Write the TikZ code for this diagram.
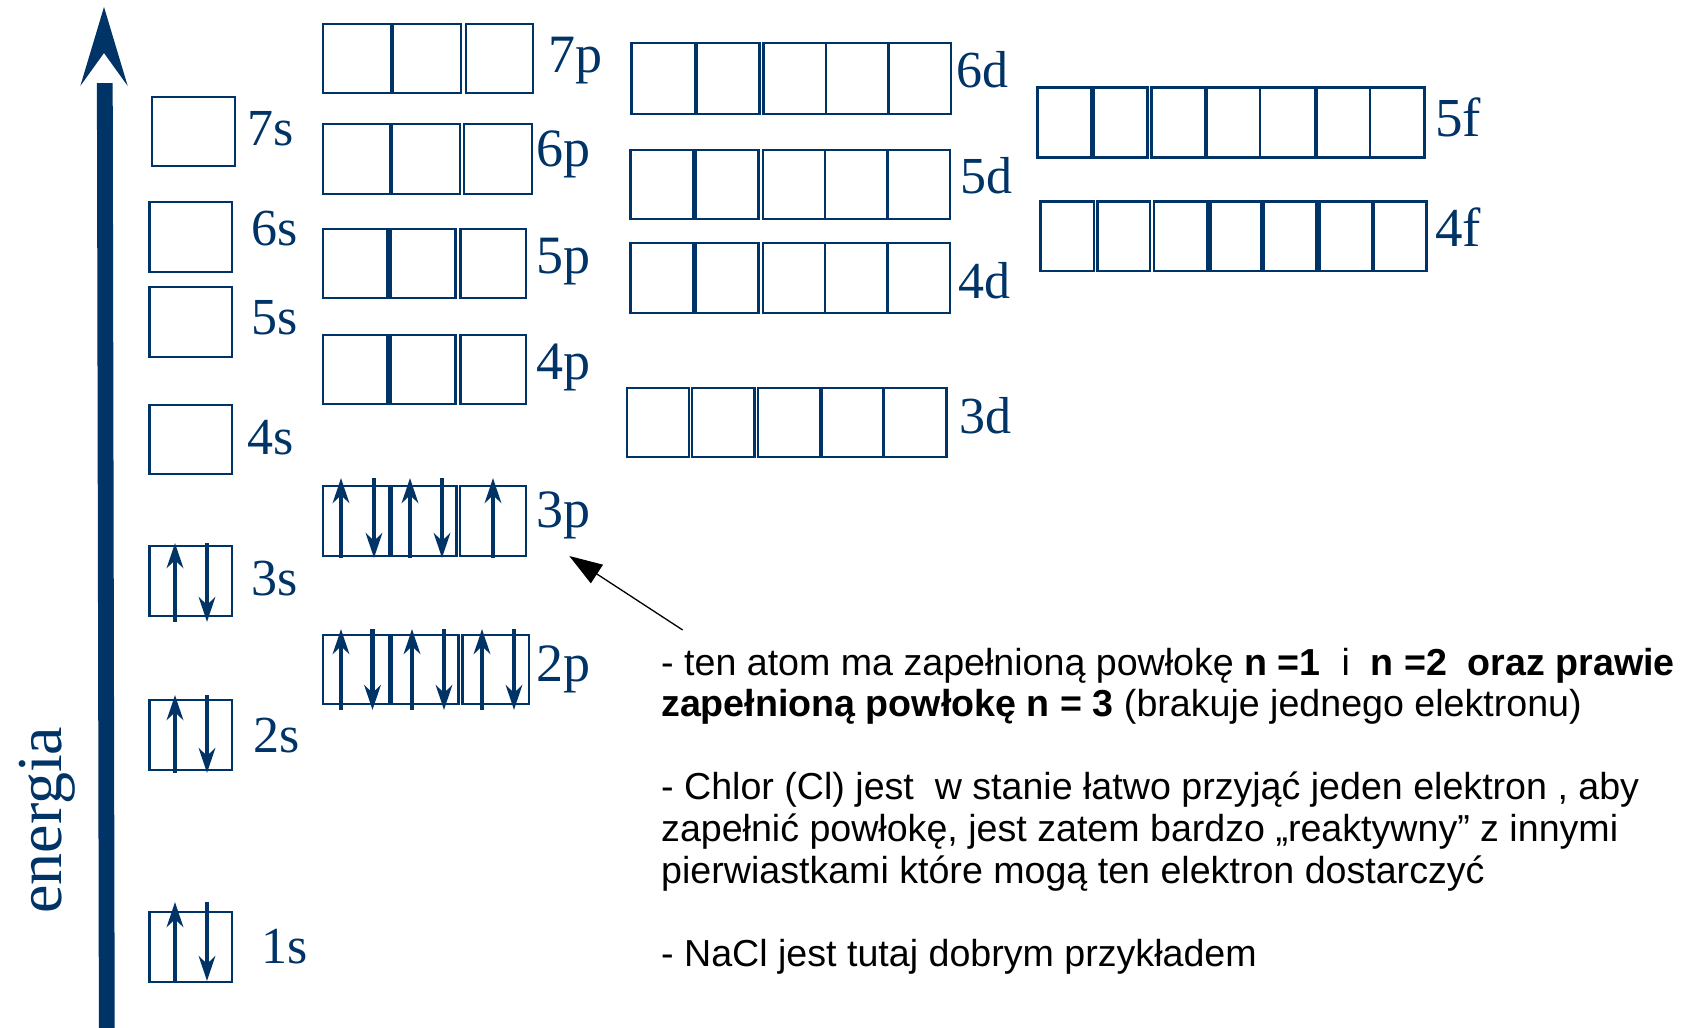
\documentclass[tikz,border=0pt]{standalone}
\usepackage{fontspec}
\setmainfont{Liberation Serif}
\newfontfamily\sansf{Liberation Sans}
\usetikzlibrary{arrows.meta}
\definecolor{navy}{RGB}{0,51,102}
\tikzset{
  orb/.style={draw=navy, line width=2.8pt},
  lbl/.style={anchor=base west, inner sep=0pt, text=navy, font=\fontsize{52}{52}\selectfont},
  lblp/.style={lbl, font=\fontsize{54}{54}\selectfont},
  lblf/.style={lbl, font=\fontsize{55}{55}\selectfont},
  electron/.style={draw=navy, line width=4.5pt, -{Stealth[length=25pt,width=16.5pt,inset=8pt,fill=navy]}},
  txt/.style={anchor=base west, inner sep=0pt, font=\sansf\fontsize{37.6}{41.6}\selectfont},
  pointer/.style={draw=black, line width=1.3pt, -{Triangle[length=33pt,width=22pt]}}
}
\begin{document}
\begin{tikzpicture}[x=1pt,y=-1pt]
\useasboundingbox (0,0) rectangle (1682,1028);
% energy axis
\fill[navy] (104,7) -- (127.7,86) -- (104,53) -- (80.3,86) -- cycle;
\fill[navy] (96.9,83) -- (112.7,83) -- (114.7,1028) -- (98.9,1028) -- cycle;
\node[rotate=90, anchor=base west, inner sep=0pt, text=navy, font=\fontsize{64}{64}\selectfont] (energia) at (61,914) {energia};
% s orbitals
\foreach \xa/\ya/\xb/\yb in {152/97/235/166, 149.5/202/232/272, 149.5/287/232/357, 149.5/405/232/474, 149.5/546/232/616, 149.5/700/232/770, 149.5/912/232/982}
  \draw[orb] (\xa,\ya) rectangle (\xb,\yb);
% p orbitals
\foreach \ya/\yb in {24/93}
  \foreach \xa/\xb in {323/391, 393/461, 466/533} \draw[orb] (\xa,\ya) rectangle (\xb,\yb);
\foreach \ya/\yb in {124/194}
  \foreach \xa/\xb in {323/390, 392/460, 464/532} \draw[orb] (\xa,\ya) rectangle (\xb,\yb);
\foreach \ya/\yb in {229/298, 335/404}
  \foreach \xa/\xb in {323/387.5, 390.7/455.5, 460.7/526} \draw[orb] (\xa,\ya) rectangle (\xb,\yb);
\foreach \ya/\yb in {486/556}
  \foreach \xa/\xb in {323/389, 391.5/456.7, 460/526} \draw[orb] (\xa,\ya) rectangle (\xb,\yb);
\foreach \ya/\yb in {635/704}
  \foreach \xa/\xb in {323/389, 391.5/458.7, 462.6/529} \draw[orb] (\xa,\ya) rectangle (\xb,\yb);
% d orbitals
\foreach \xa/\xb in {631.4/695, 696.8/759.3, 763.6/826, 826/888.6, 888.6/951} \draw[orb] (\xa,43) rectangle (\xb,114);
\foreach \ya/\yb in {150/219, 243/313}
  \foreach \xa/\xb in {630.7/692.9, 695.7/758.2, 762.9/825, 825/887.5, 887.5/950} \draw[orb] (\xa,\ya) rectangle (\xb,\yb);
\foreach \xa/\xb in {627/689, 692/754.6, 758/820.7, 821.8/883.6, 883.6/946.4} \draw[orb] (\xa,388) rectangle (\xb,457);
% f orbitals
\foreach \xa/\xb in {1037.3/1091.7, 1093.3/1147.7, 1151.7/1205, 1206.7/1260, 1260/1315, 1316.7/1370, 1370/1424.3} \draw[orb] (\xa,87.3) rectangle (\xb,157.7);
\foreach \xa/\xb in {1040.7/1094, 1097.3/1150, 1154/1207.3, 1210.7/1261.7, 1264/1316.7, 1319.3/1372.7, 1374/1426.7} \draw[orb] (\xa,201.7) rectangle (\xb,271);
% labels
\node[lbl] (l7s) at (247,145) {7s};
\node[lbl] (l6s) at (251,245) {6s};
\node[lbl] (l5s) at (251,334) {5s};
\node[lbl] (l4s) at (247,454) {4s};
\node[lbl] (l3s) at (251,595) {3s};
\node[lbl] (l2s) at (253,752) {2s};
\node[lbl] (l1s) at (261,963) {1s};
\node[lblp] (l7p) at (548,72) {7p};
\node[lblp] (l6p) at (536,166) {6p};
\node[lblp] (l5p) at (536,273) {5p};
\node[lblp] (l4p) at (536,379) {4p};
\node[lblp] (l3p) at (536,527) {3p};
\node[lblp] (l2p) at (536,681) {2p};
\node[lbl] (l6d) at (956,87) {6d};
\node[lbl] (l5d) at (960,193) {5d};
\node[lbl] (l4d) at (958,298) {4d};
\node[lbl] (l3d) at (959,433) {3d};
\node[lblf] (l5f) at (1435,136) {5f};
\node[lblf] (l4f) at (1435,246) {4f};
% electrons in s orbitals
\foreach \t/\b in {902/981, 695/773, 543/622} {
  \draw[electron] (175,\b) -- (175,\t);
  \draw[electron] (207,\t) -- (207,\b);
}
% 3p electrons
\foreach \x in {341, 410, 493} \draw[electron] (\x,558) -- (\x,478);
\foreach \x in {374, 442} \draw[electron] (\x,478) -- (\x,558);
% 2p electrons
\foreach \x in {341, 412, 482} \draw[electron] (\x,710) -- (\x,629);
\foreach \x in {372.5, 444, 514} \draw[electron] (\x,629) -- (\x,710);
% pointer
\coordinate (ptail) at (682.7,630);
\coordinate (ptip) at (569.3,556);
\draw[pointer] (ptail) -- (ptip);
% text
\node[txt] (t1) at (661,675) {- ten atom ma zapełnioną powłokę \textbf{n =1}\ \ i\ \ \textbf{n =2\ \ oraz prawie}};
\node[txt] (t2) at (661,716.6) {\textbf{zapełnioną powłokę n = 3} (brakuje jednego elektronu)};
\node[txt] (t3) at (661,799.8) {- Chlor (Cl) jest\ \ w stanie łatwo przyjąć jeden elektron , aby};
\node[txt] (t4) at (661,841.4) {zapełnić powłokę, jest zatem bardzo „reaktywny” z innymi};
\node[txt] (t5) at (661,883) {pierwiastkami które mogą ten elektron dostarczyć};
\node[txt] (t6) at (661,966.2) {- NaCl jest tutaj dobrym przykładem};
\end{tikzpicture}
\end{document}
